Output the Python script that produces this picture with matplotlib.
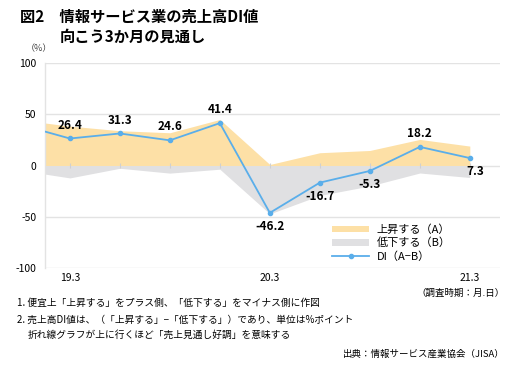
import numpy as np
import matplotlib.pyplot as plt

plt.rcParams['font.family'] = ['Noto Sans CJK JP', 'DejaVu Sans']

# quarterly survey, 18.12 .. 21.3 (first point is clipped at the left edge)
periods = ['18.12', '19.3', '19.6', '19.9', '19.12', '20.3', '20.6', '20.9', '20.12', '21.3']
rise = [44.6, 38.5, 34.0, 32.0, 45.0, 1.0, 12.5, 14.7, 25.5, 19.0]      # 上昇する (A)
fall = [4.6, 12.1, 2.7, 7.4, 3.6, 47.2, 29.2, 20.0, 7.3, 11.7]         # 低下する (B)
di = [40.0, 26.4, 31.3, 24.6, 41.4, -46.2, -16.7, -5.3, 18.2, 7.3]      # DI (A-B)
tick_labels = {'19.3': '19.3', '20.3': '20.3', '21.3': '21.3'}

x = np.arange(len(periods)) - 1

fig = plt.figure(figsize=(5.1, 3.65), dpi=100)
ax = fig.add_axes([0.088, 0.266, 0.892, 0.561])

grid_c = '#e3e3e3'
for yv in [100, 50, 0, -50, -100]:
    ax.axhline(yv, color=grid_c, lw=1.0, zorder=1)

ax.fill_between(x, 0, rise, color='#fde0a6', lw=0, zorder=2, label='上昇する（A）')
ax.fill_between(x, 0, [-v for v in fall], color='#e0e0e2', lw=0, zorder=2, label='低下する（B）')
ax.vlines(x[1:], -2.5, 2.5, color='#d0d0d0', lw=0.8, zorder=3)
ax.plot(x, di, color='#5aaeea', lw=1.3, marker='o', ms=3, zorder=4, label='DI（A−B）')

# value labels
for xi, v in zip(x[1:], di[1:]):
    if v >= 0 and v != 7.3:
        ax.annotate(f'{v}', (xi, v), xytext=(0, 5), textcoords='offset points',
                    ha='center', va='bottom', fontsize=8.5, fontweight='bold', zorder=5)
    elif v == 7.3:
        ax.annotate(f'{v}', (xi, v), xytext=(4, -5), textcoords='offset points',
                    ha='center', va='top', fontsize=8.5, fontweight='bold', zorder=5)
    else:
        ax.annotate(f'{v}', (xi, v), xytext=(0, -5), textcoords='offset points',
                    ha='center', va='top', fontsize=8.5, fontweight='bold', zorder=5)

ax.set_xlim(-0.5, 8.6)
ax.set_ylim(-100, 100)
ax.set_yticks([-100, -50, 0, 50, 100])
ax.set_yticklabels(['-100', '-50', '0', '50', '100'], fontsize=7.5)
tick_pos = [xi for xi, p in zip(x, periods) if p in tick_labels]
ax.set_xticks(tick_pos)
ax.set_xticklabels([tick_labels[p] for p in periods if p in tick_labels], fontsize=7.5)
ax.tick_params(length=0, pad=4)
ax.tick_params(axis='y', pad=6)
for s in ['top', 'right', 'bottom']:
    ax.spines[s].set_visible(False)
ax.spines['left'].set_color(grid_c)
ax.spines['left'].set_linewidth(1.0)

leg = ax.legend(loc='upper left', bbox_to_anchor=(0.62, 0.24), frameon=False,
                fontsize=8, handlelength=3.3, handleheight=0.5,
                labelspacing=0.25, borderpad=0, handletextpad=0.7)

fig.text(0.04, 0.955, '図2　情報サービス業の売上高DI値', fontsize=11, fontweight='bold', va='center')
fig.text(0.118, 0.898, '向こう3か月の見通し', fontsize=11, fontweight='bold', va='center')
fig.text(0.05, 0.868, '（%）', fontsize=6.5, color='#444444', va='center')

fig.text(0.99, 0.197, '（調査時期：月.日）', fontsize=6.8, ha='right', va='center')
fig.text(0.033, 0.170, '1. 便宜上「上昇する」をプラス側、「低下する」をマイナス側に作図', fontsize=7, va='center')
fig.text(0.033, 0.125, '2. 売上高DI値は、（「上昇する」−「低下する」）であり、単位は%ポイント', fontsize=7, va='center')
fig.text(0.055, 0.082, '折れ線グラフが上に行くほど「売上見通し好調」を意味する', fontsize=7, va='center')
fig.text(0.99, 0.030, '出典：情報サービス産業協会（JISA）', fontsize=6.8, ha='right', va='center')

fig.savefig('out.png', dpi=100)
